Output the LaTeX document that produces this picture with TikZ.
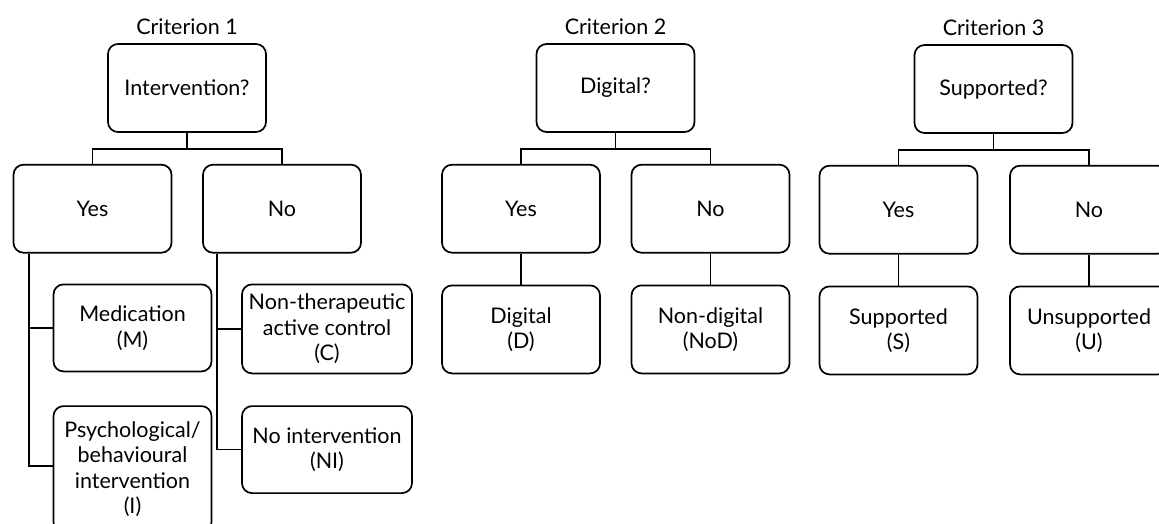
\documentclass[tikz,border=0pt]{standalone}
\usepackage{fontspec}
\setmainfont{Lato}
\usetikzlibrary{positioning}

\begin{document}
\begin{tikzpicture}[x=1pt, y=-1pt, node distance=31pt]
    \tikzstyle{box}=[rectangle, rounded corners=10pt, draw=black, line width=1.7pt, minimum width=158pt, minimum height=88pt, align=center, inner sep=1pt, font=\fontsize{21.5}{25.5}\selectfont]
    \tikzstyle{wide}=[box, minimum width=170pt]
    \tikzstyle{title}=[font=\fontsize{21.5}{25.5}\selectfont, inner sep=1pt]
    \tikzstyle{connect}=[line width=1.7pt]

    \useasboundingbox (0,0) rectangle (1159,523);
    \clip (0,0) rectangle (1159,523);

      % criterion 1
      \node[box] (interv) at (187,88) {Intervention?};
      \node[title] (crit1) [above=7pt of interv] {Criterion 1};
      \node[box] (yes1) [below=of interv, xshift=-94.5pt] {Yes};
      \node[box] (no1) [below=of interv, xshift=95pt] {No};
      \node[box, minimum height=87pt] (med) [below=30pt of yes1.south west, anchor=north west, xshift=40pt] {Medication\\(M)};
      \node[box, minimum height=126pt] (psy) [below=33pt of med] {Psychological/\\behavioural\\intervention\\(I)};
      \node[wide, minimum height=89pt] (nontherap) [below=30pt of no1.south west, anchor=north west, xshift=39pt] {Non-therapeutic\\active control\\(C)};
      \node[wide, minimum height=87pt] (nointerv) [below=31pt of nontherap] {No intervention\\(NI)};

      % criterion 2
      \node[box] (digq) at (615.5,88) {Digital?};
      \node[title] (crit2) [above=7pt of digq] {Criterion 2};
      \node[box] (yes2) [below=of digq, xshift=-94.5pt] {Yes};
      \node[box] (no2) [below=of digq, xshift=95pt] {No};
      \node[box] (dig) [below=of yes2] {Digital\\(D)};
      \node[box] (nondig) [below=of no2] {Non-digital\\(NoD)};

      % criterion 3
      \node[box] (supq) at (993.5,89) {Supported?};
      \node[title] (crit3) [above=7pt of supq] {Criterion 3};
      \node[box] (yes3) [below=of supq, xshift=-95pt] {Yes};
      \node[box] (no3) [below=of supq, xshift=95.5pt] {No};
      \node[box] (sup) [below=of yes3] {Supported\\(S)};
      \node[box] (unsup) [below=of no3] {Unsupported\\(U)};

      \draw[connect] (interv.south) -- ++(0,16) -| (yes1.north);
      \draw[connect] (interv.south) ++(0,16) -| (no1.north);
      \draw[connect] (digq.south) -- ++(0,16) -| (yes2.north);
      \draw[connect] (digq.south) ++(0,16) -| (no2.north);
      \draw[connect] (supq.south) -- ++(0,16) -| (yes3.north);
      \draw[connect] (supq.south) ++(0,16) -| (no3.north);

      \draw[connect] (yes1.south west) ++(16,0) |- (med.west);
      \draw[connect] (yes1.south west) ++(16,0) |- ([yshift=3pt]psy.west);
      \draw[connect] (no1.south west) ++(15,0) |- (nontherap.west);
      \draw[connect] (no1.south west) ++(15,0) |- (nointerv.west);
      \path
        (yes2) edge [connect] (dig)
        (no2) edge [connect] (nondig)
        (yes3) edge [connect] (sup)
        (no3) edge [connect] (unsup);
    \end{tikzpicture}
\end{document}
